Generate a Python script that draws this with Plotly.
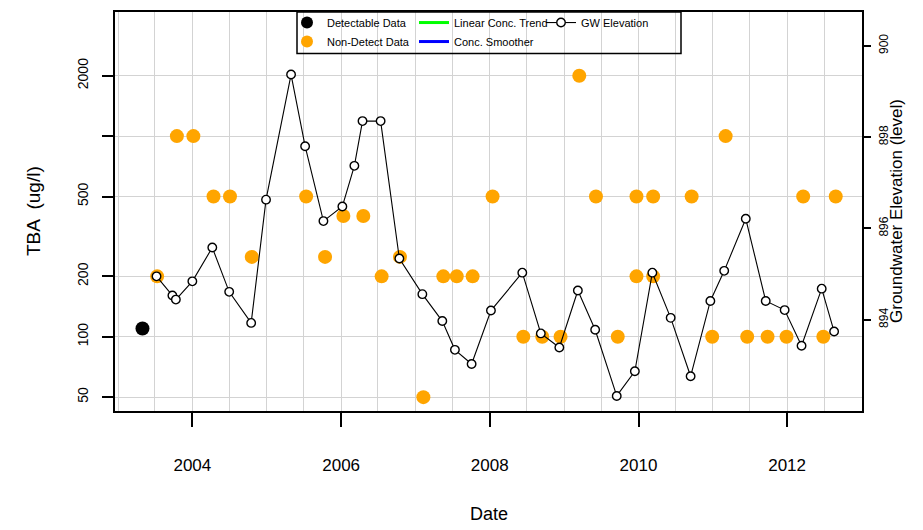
import plotly.graph_objects as go

# ---------------- data ----------------
det_dates = ["2003-05-01"]
det_conc = [110]

nd_dates = ["2003-07-12", "2003-10-17", "2004-01-06", "2004-04-14", "2004-07-04",
            "2004-10-19", "2005-07-13", "2005-10-14", "2006-01-12", "2006-04-20",
            "2006-07-19", "2006-10-17", "2007-02-09", "2007-05-18", "2007-07-23",
            "2007-10-09", "2008-01-15", "2008-06-14", "2008-09-15", "2008-12-14",
            "2009-03-16", "2009-06-06", "2009-09-21", "2009-12-22", "2009-12-22",
            "2010-03-14", "2010-03-14", "2010-09-19", "2010-12-29", "2011-03-05",
            "2011-06-19", "2011-09-27", "2011-12-29", "2012-03-20", "2012-06-27",
            "2012-08-27"]
nd_conc = [200, 1000, 1000, 500, 500,
           250, 500, 250, 400, 400,
           200, 250, 50, 200, 200,
           200, 500, 100, 100, 100,
           2000, 500, 100, 500, 200,
           500, 200, 500, 100, 1000,
           100, 100, 100, 500, 100,
           500]

gw_dates = ["2003-07-09", "2003-09-25", "2003-10-12", "2004-01-01", "2004-04-08",
            "2004-06-30", "2004-10-16", "2004-12-28", "2005-04-30", "2005-07-08",
            "2005-10-06", "2006-01-07", "2006-03-07", "2006-04-16", "2006-07-14",
            "2006-10-14", "2007-02-04", "2007-05-13", "2007-07-14", "2007-10-04",
            "2008-01-07", "2008-06-09", "2008-09-08", "2008-12-08", "2009-03-09",
            "2009-06-02", "2009-09-16", "2009-12-14", "2010-03-10", "2010-06-08",
            "2010-09-14", "2010-12-20", "2011-02-26", "2011-06-12", "2011-09-18",
            "2011-12-20", "2012-03-12", "2012-06-19", "2012-08-19"]
gw_elev = [894.95, 894.53, 894.44, 894.84, 895.58,
           894.61, 893.93, 896.63, 899.37, 897.80,
           896.16, 896.48, 897.37, 898.35, 898.35,
           895.34, 894.56, 893.97, 893.34, 893.03,
           894.20, 895.03, 893.70, 893.39, 894.64,
           893.78, 892.33, 892.87, 895.03, 894.04,
           892.76, 894.41, 895.07, 896.21, 894.41,
           894.21, 893.43, 894.68, 893.74]

conc_ticks = [50, 100, 200, 500, 1000, 2000]
conc_ticktext = ["50", "100", "200", "500", "", "2000"]
gw_ticks = [894, 896, 898, 900]

# ---------------- geometry (page has an 8px body margin) ----------------
OFF = 8
W, H = 923 - OFF, 530 - OFF
PL, PR, PT, PB = 115, 862, 8, 411          # plot box in page pixels
L, R, T, B = PL - OFF, W - (PR - OFF), PT - OFF, H - (PB - OFF)
pw, ph = W - L - R, H - T - B


def px(x):
    return (x - PL) / pw


def py(y):
    return (PB - y) / ph


FONT = "Liberation Sans, Arial, sans-serif"
GRID = "#D3D3D3"
ORANGE = "#FFA500"

fig = go.Figure()

fig.add_trace(go.Scatter(
    x=det_dates, y=det_conc, mode="markers", name="Detectable Data",
    marker=dict(color="black", size=14), legend="legend", cliponaxis=False))
fig.add_trace(go.Scatter(
    x=nd_dates, y=nd_conc, mode="markers", name="Non-Detect Data",
    marker=dict(color=ORANGE, size=14), legend="legend", cliponaxis=False))
fig.add_trace(go.Scatter(
    x=[None], y=[None], mode="lines", name="Linear Conc. Trend",
    line=dict(color="#00FF00", width=3), legend="legend2"))
fig.add_trace(go.Scatter(
    x=[None], y=[None], mode="lines", name="Conc. Smoother",
    line=dict(color="#0000FF", width=3), legend="legend2"))
fig.add_trace(go.Scatter(
    x=gw_dates, y=gw_elev, mode="lines+markers", name="GW Elevation",
    yaxis="y2", line=dict(color="black", width=1.1),
    marker=dict(symbol="circle", size=8.5, color="white",
                line=dict(color="black", width=1.4)),
    legend="legend3", cliponaxis=False))

leg_common = dict(bgcolor="rgba(0,0,0,0)", borderwidth=0,
                  font=dict(family=FONT, size=11, color="black"),
                  xanchor="left", yanchor="top", tracegroupgap=0,
                  itemwidth=30)

fig.update_layout(
    width=W, height=H,
    margin=dict(l=L, r=R, t=T, b=B, pad=0),
    paper_bgcolor="white", plot_bgcolor="white",
    font=dict(family=FONT, color="black"),
    showlegend=True,
    legend=dict(x=px(287), y=py(4), itemsizing="constant", **leg_common),
    legend2=dict(x=px(414), y=py(4), **leg_common),
    legend3=dict(x=px(541), y=py(4), **leg_common),
    xaxis=dict(
        type="date", range=["2002-12-17", "2013-01-03"],
        tick0="2004-01-01", dtick="M24", tickformat="%Y",
        showgrid=True, gridcolor=GRID, gridwidth=1,
        minor=dict(tick0="2003-07-01", dtick="M6", showgrid=True,
                   gridcolor=GRID, gridwidth=1, ticks=""),
        ticks="outside", ticklen=14, tickwidth=1.5, tickcolor="black",
        ticklabelstandoff=24,
        tickfont=dict(family=FONT, size=17, color="black"),
        showline=True, linecolor="black", linewidth=2, mirror=True,
        zeroline=False,
    ),
    yaxis=dict(
        type="log", range=[1.630, 3.6186],
        tickvals=conc_ticks, ticktext=conc_ticktext, tickangle=-90,
        showgrid=True, gridcolor=GRID, gridwidth=1,
        ticks="outside", ticklen=11, tickwidth=1.5, tickcolor="black",
        ticklabelstandoff=8,
        tickfont=dict(family=FONT, size=14, color="black"),
        showline=True, linecolor="black", linewidth=2, mirror=True,
        zeroline=False,
    ),
    yaxis2=dict(
        overlaying="y", side="right", range=[892.0, 900.74],
        tickvals=gw_ticks, tickangle=-90, showgrid=False,
        ticks="outside", ticklen=7, tickwidth=1.5, tickcolor="black",
        ticklabelstandoff=3,
        tickfont=dict(family=FONT, size=12, color="black"),
        showline=True, linecolor="black", linewidth=2,
        zeroline=False,
    ),
    shapes=[dict(type="rect", xref="paper", yref="paper",
                 x0=px(297), x1=px(681), y0=py(50), y1=py(8),
                 line=dict(color="black", width=1.5),
                 fillcolor="rgba(0,0,0,0)", layer="above")],
    annotations=[
        dict(text="TBA  (ug/l)", xref="paper", yref="paper",
             x=px(33), y=py(209), textangle=-90, showarrow=False,
             xanchor="center", yanchor="middle",
             font=dict(family=FONT, size=19, color="black")),
        dict(text="Groundwater Elevation (level)", xref="paper", yref="paper",
             x=px(896), y=py(209), textangle=-90, showarrow=False,
             xanchor="center", yanchor="middle",
             font=dict(family=FONT, size=17, color="black")),
        dict(text="Date", xref="paper", yref="paper",
             x=0.5, y=py(515), showarrow=False,
             xanchor="center", yanchor="middle",
             font=dict(family=FONT, size=18, color="black")),
    ],
)

fig.write_html("out.html")
